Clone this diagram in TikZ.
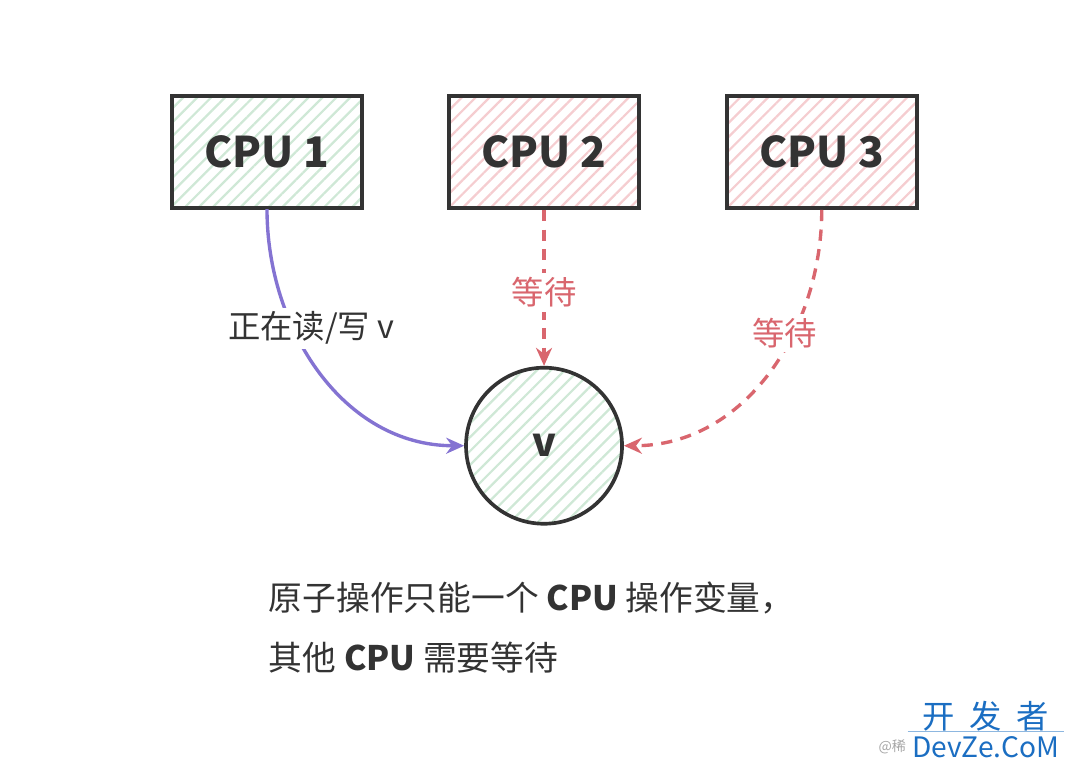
\documentclass[tikz,border=0pt]{standalone}
\usepackage{fontspec}
\usepackage{tikz}
\usetikzlibrary{arrows.meta, positioning, patterns.meta}
\newfontfamily\cjk{Noto Sans CJK SC}
\definecolor{ink}{HTML}{333333}
\definecolor{greenish}{HTML}{CFE8D6}
\definecolor{pinkish}{HTML}{F5CDD0}
\definecolor{waitred}{HTML}{D9666E}
\definecolor{rwpurple}{HTML}{8473D2}
\definecolor{siteblue}{HTML}{1B6EC2}

\begin{document}
\begin{tikzpicture}[x=0.025cm, y=-0.025cm,
      cpu/.style={draw=ink, line width=2.6pt, minimum width=4.75cm, minimum height=2.8cm,
                  font=\cjk\bfseries\fontsize{30}{34}\selectfont, text=ink},
      idle/.style={cpu, pattern={Lines[angle=45, distance=7pt, line width=1.6pt]}, pattern color=greenish},
      busy/.style={cpu, pattern={Lines[angle=45, distance=7pt, line width=1.6pt]}, pattern color=pinkish},
      var/.style={circle, draw=ink, line width=2.6pt, minimum size=3.9cm,
                  pattern={Lines[angle=45, distance=7pt, line width=1.6pt]}, pattern color=greenish,
                  font=\cjk\bfseries\fontsize{28}{32}\selectfont, text=ink},
      rw/.style={-{Stealth[length=4.5mm, width=4mm]}, line width=2.4pt, rwpurple},
      wait/.style={-{Stealth[length=4.5mm, width=4mm]}, line width=2.4pt, waitred,
                   dash pattern=on 8pt off 6pt},
      tag/.style={fill=white, inner sep=3pt, font=\cjk\fontsize{23}{26}\selectfont},
      note/.style={font=\cjk\fontsize{24}{28}\selectfont, text=ink, anchor=west}]
    \useasboundingbox (0,0) rectangle (1070,768);
    \node[idle] (cpu1) at (267,152) {CPU 1};
    \node[busy, right=2.1cm of cpu1] (cpu2) {CPU 2};
    \node[busy, right=2.1cm of cpu2] (cpu3) {CPU 3};
    \node[var, below=3.9cm of cpu2] (v) {v};
    \draw[rw] (cpu1.south) to[out=-90, in=180]
      node[tag, text=ink, pos=0.42, xshift=0.15cm, yshift=0.55cm] {正在读/写 v} (v.west);
    \draw[wait] (cpu2.south) -- node[tag, text=waitred, pos=0.53] {等待} (v.north);
    \draw[wait] (cpu3.south) to[out=-90, in=0]
      node[tag, text=waitred, pos=0.4, xshift=-0.05cm, yshift=0.3cm] {等待} (v.east);
    \node[note] (line1) at (264,598) {原子操作只能一个 \textbf{CPU} 操作变量，};
    \node[note] (line2) at (264,658) {其他 \textbf{CPU} 需要等待};
    % site mark
    \node[font=\cjk\fontsize{23}{24}\selectfont, text=siteblue] (kfz) at (986,716) {开\hspace{0.45em}发\hspace{0.45em}者};
    \node[font=\cjk\fontsize{20}{22}\selectfont, text=siteblue, below=-0.12cm of kfz] (devze) {DevZe.CoM};
    \node[font=\cjk\fontsize{10}{12}\selectfont, text=black!35, left=0pt of devze.west, inner sep=1pt] (at) {@稀};
    \draw[siteblue!50, line width=0.6pt] (devze.north west) -- (devze.north east);
  \end{tikzpicture}
\end{document}
